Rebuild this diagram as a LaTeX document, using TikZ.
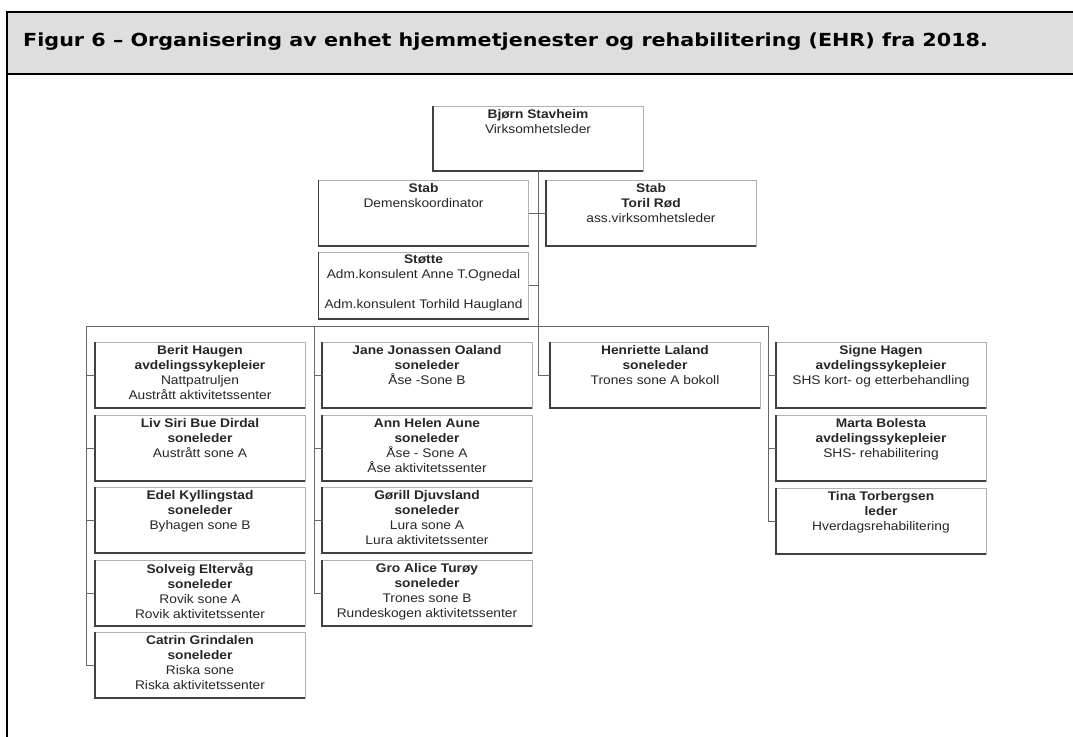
\documentclass[tikz,border=0pt]{standalone}
\usepackage{fontspec}
\newfontfamily\orgfont[FakeStretch=1.1]{Liberation Sans}
\newfontfamily\capfont[FakeStretch=1.15]{DejaVu Sans}

\begin{document}
\begin{tikzpicture}[x=1pt,y=-1pt,
  unit/.style={draw=black!30, line width=0.6pt, minimum width=210pt, minimum height=66pt, inner sep=0pt, outer sep=0pt},
  txt/.style={anchor=north, align=center, inner sep=3pt, text=black!85, font=\orgfont\fontsize{12.5}{15}\selectfont},
  link/.style={draw=black!60, line width=0.8pt},
  shade/.style={draw=black!75, line width=1.8pt}]
\useasboundingbox (0,0) rectangle (1073,736);
% frame and caption
\draw[line width=2pt] (7,740) -- (7,12);
\filldraw[fill=black!13, line width=2pt] (1090,12) -- (7,12) -- (7,74) -- (1090,74);
\node[anchor=west, inner sep=0pt, font=\capfont\bfseries\fontsize{18}{21}\selectfont] (caption) at (23,42)
  {Figur 6 – Organisering av enhet hjemmetjenester og rehabilitering (EHR) fra 2018.};
% top
\node[unit, minimum height=65pt, label={[txt]north:{\textbf{Bjørn Stavheim}\\Virksomhetsleder}}] (leder) at (538,138.5) {};
\node[unit, label={[txt]north:{\textbf{Stab}\\Demenskoordinator}}] (dem) at (423.5,213) {};
\node[unit, label={[txt]north:{\textbf{Stab}\\\textbf{Toril Rød}\\ass.virksomhetsleder}}] (toril) at (651,213) {};
\node[unit, minimum height=67pt, label={[txt]north:{\textbf{Støtte}\\Adm.konsulent Anne T.Ognedal\\[15pt]Adm.konsulent Torhild Haugland}}] (stotte) at (423.5,285.5) {};
% column 1
\node[unit, label={[txt]north:{\textbf{Berit Haugen}\\\textbf{avdelingssykepleier}\\Nattpatruljen\\Austrått aktivitetssenter}}] (berit) at (200,375) {};
\node[unit, label={[txt]north:{\textbf{Liv Siri Bue Dirdal}\\\textbf{soneleder}\\Austrått sone A}}] (liv) at (200,448) {};
\node[unit, label={[txt]north:{\textbf{Edel Kyllingstad}\\\textbf{soneleder}\\Byhagen sone B}}] (edel) at (200,520) {};
\node[unit, label={[txt]north:{\textbf{Solveig Eltervåg}\\\textbf{soneleder}\\Rovik sone A\\Rovik aktivitetssenter}}] (solveig) at (200,593) {};
\node[unit, label={[txt]north:{\textbf{Catrin Grindalen}\\\textbf{soneleder}\\Riska sone\\Riska aktivitetssenter}}] (catrin) at (200,665) {};
% column 2
\node[unit, label={[txt]north:{\textbf{Jane Jonassen Oaland}\\\textbf{soneleder}\\Åse -Sone B}}] (jane) at (427,375) {};
\node[unit, label={[txt]north:{\textbf{Ann Helen Aune}\\\textbf{soneleder}\\Åse - Sone A\\Åse aktivitetssenter}}] (ann) at (427,448) {};
\node[unit, label={[txt]north:{\textbf{Gørill Djuvsland}\\\textbf{soneleder}\\Lura sone A\\Lura aktivitetssenter}}] (gorill) at (427,520) {};
\node[unit, label={[txt]north:{\textbf{Gro Alice Turøy}\\\textbf{soneleder}\\Trones sone B\\Rundeskogen aktivitetssenter}}] (gro) at (427,593) {};
% column 3
\node[unit, label={[txt]north:{\textbf{Henriette Laland}\\\textbf{soneleder}\\Trones sone A bokoll}}] (henr) at (655,375) {};
% column 4
\node[unit, label={[txt]north:{\textbf{Signe Hagen}\\\textbf{avdelingssykepleier}\\SHS kort- og etterbehandling}}] (signe) at (881,375) {};
\node[unit, label={[txt]north:{\textbf{Marta Bolesta}\\\textbf{avdelingssykepleier}\\SHS- rehabilitering}}] (marta) at (881,448) {};
\node[unit, label={[txt]north:{\textbf{Tina Torbergsen}\\\textbf{leder}\\Hverdagsrehabilitering}}] (tina) at (881,521) {};
% heavy left and bottom edges
\foreach \n in {leder,dem,toril,stotte,berit,liv,edel,solveig,catrin,jane,ann,gorill,gro,henr,signe,marta,tina}
  \draw[shade] (\n.north west) -- (\n.south west) -- (\n.south east);
% lines
\coordinate (b1) at (86,326);
\coordinate (b2) at (314,326);
\coordinate (b4) at (768,326);
\draw[link] (leder.south) |- (henr.west);
\draw[link] (dem.east) -- (toril.west);
\draw[link] (stotte.east) -- (stotte.east -| leder.south);
\draw[link] (b1) -- (b4);
\draw[link] (b1) |- (catrin.west);
\foreach \n in {berit,liv,edel,solveig}
  \draw[link] (b1 |- \n.west) -- (\n.west);
\draw[link] (b2) |- (gro.west);
\foreach \n in {jane,ann,gorill}
  \draw[link] (b2 |- \n.west) -- (\n.west);
\draw[link] (b4) |- (tina.west);
\foreach \n in {signe,marta}
  \draw[link] (b4 |- \n.west) -- (\n.west);
\end{tikzpicture}
\end{document}
